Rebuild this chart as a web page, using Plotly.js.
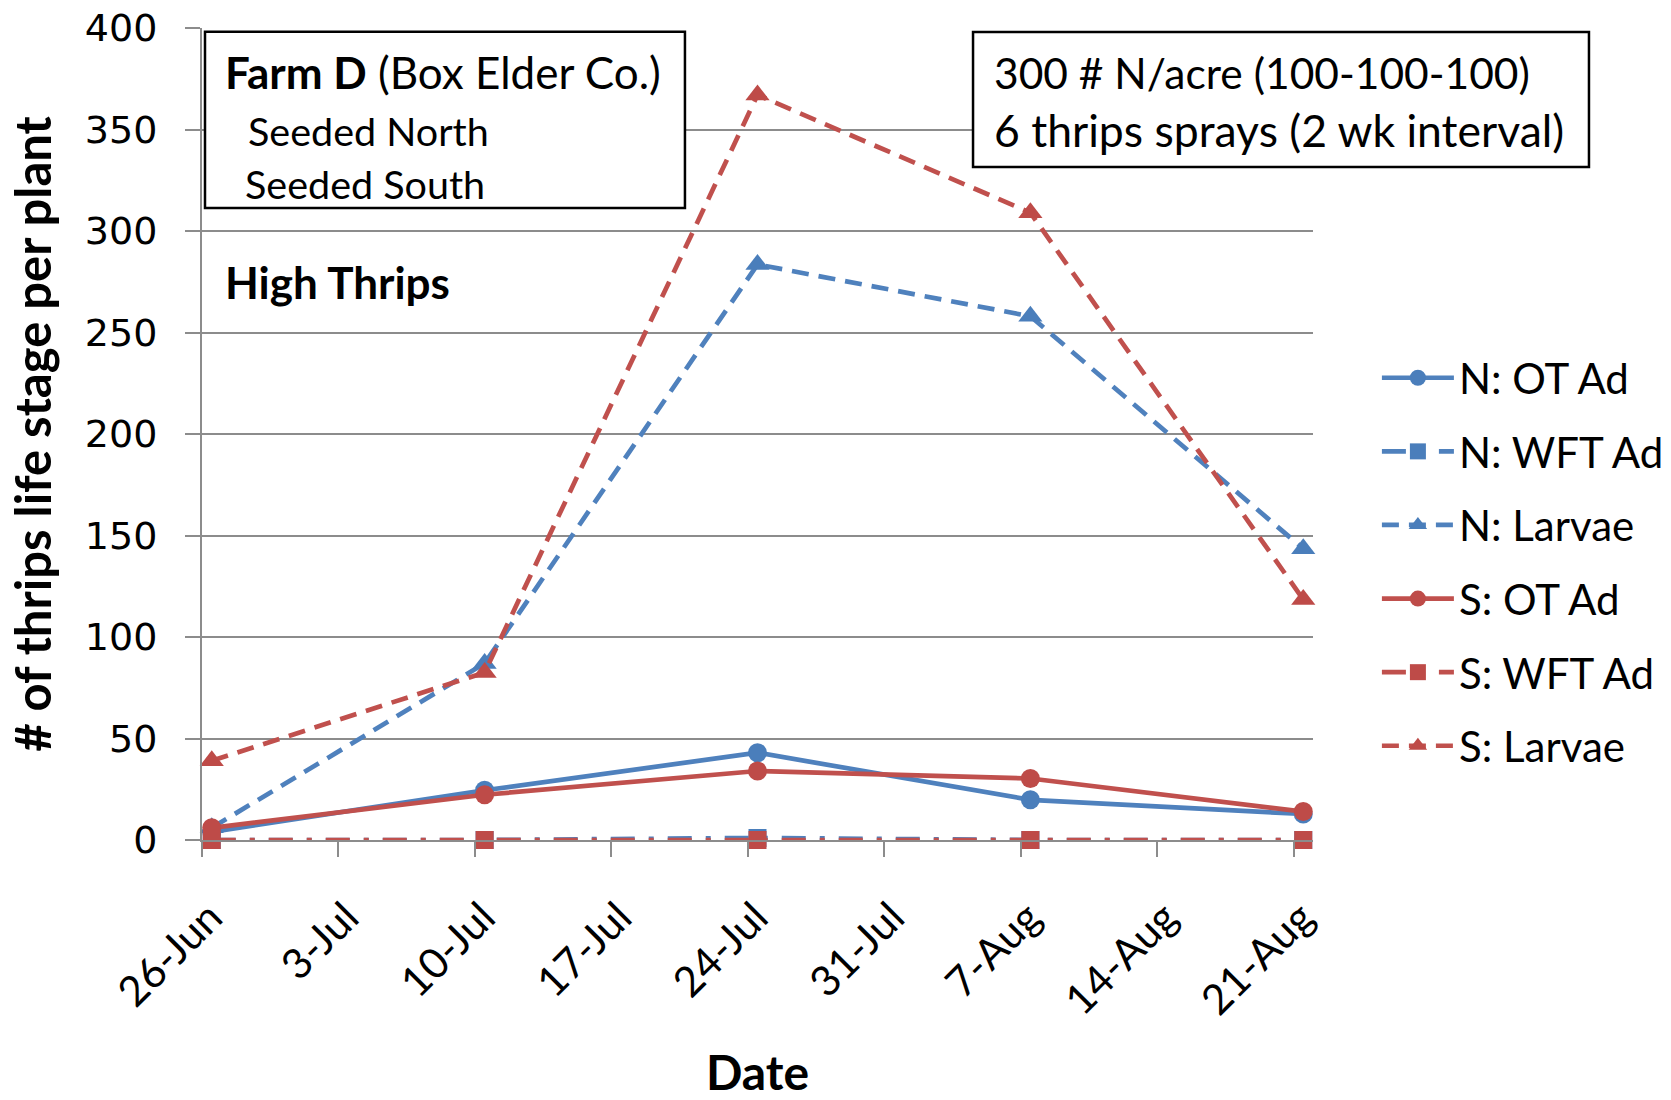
<!DOCTYPE html>
<html>
<head>
<meta charset="utf-8">
<script src="https://cdn.plot.ly/plotly-3.0.1.min.js"></script>
<style>
html,body{margin:0;padding:0;background:#fff;}
#chart{width:1671px;height:1100px;}
</style>
</head>
<body>
<div id="chart"></div>
<script>
// ---- data ----
const dates = ['2013-06-26', '2013-07-10', '2013-07-24', '2013-08-07', '2013-08-21'];
const seriesNames = ['N: OT Ad', 'N: WFT Ad', 'N: Larvae', 'S: OT Ad', 'S: WFT Ad', 'S: Larvae'];
const nOTAd   = [4, 24.5, 43, 19.8, 12.8];
const nWFTAd  = [0, 0, 1, 0, 0];
const nLarvae = [6, 87, 283.5, 258, 143.5];
const sOTAd   = [6, 22.3, 34, 30.3, 14];
const sWFTAd  = [0, 0, 0, 0, 0];
const sLarvae = [39, 82.5, 367, 309, 118.5];
const xTickStart = '2013-06-26';
const xRange = ['2013-06-26', '2013-08-22'];
const yTicks = [0, 50, 100, 150, 200, 250, 300, 350, 400];

// ---- style ----
const BLUE = '#4F81BD', BLUE_M = '#4A7EBB';
const RED = '#C0504D', RED_M = '#BE4B48';
const DAY = 86400000;
const dashLarvae = '17px,10px';
const dashWFT = '24px,14px,5px,14px';
const symbolSize = {'circle': 19, 'square': 18, 'triangle-up': 21};

function tr(name, y, color, mcolor, symbol, dash) {
  return {
    x: dates, y: y, name: name, type: 'scatter', mode: 'lines+markers',
    xperiod: DAY, xperiodalignment: 'middle',
    legendgroup: name,
    line: {color: color, width: 4.7, dash: dash},
    marker: {color: mcolor, symbol: symbol, size: symbolSize[symbol], line: {width: 0}},
    cliponaxis: false
  };
}

const data = [
  tr(seriesNames[0], nOTAd, BLUE, BLUE_M, 'circle', 'solid'),
  tr(seriesNames[1], nWFTAd, BLUE, BLUE_M, 'square', dashWFT),
  tr(seriesNames[2], nLarvae, BLUE, BLUE_M, 'triangle-up', dashLarvae),
  tr(seriesNames[3], sOTAd, RED, RED_M, 'circle', 'solid'),
  tr(seriesNames[4], sWFTAd, RED, RED_M, 'square', dashWFT),
  tr(seriesNames[5], sLarvae, RED, RED_M, 'triangle-up', dashLarvae)
];

const FONT = 'Lato, "Open Sans", sans-serif';
const GRID = '#8C8C8C';

const layout = {
  width: 1671, height: 1100,
  margin: {l: 202, r: 358, t: 28, b: 260},
  paper_bgcolor: '#fff', plot_bgcolor: '#fff',
  font: {family: FONT, color: '#000', size: 40},
  showlegend: true,
  legend: {
    xref: 'container', yref: 'container',
    x: 0.824, xanchor: 'left', y: 0.6873, yanchor: 'top',
    font: {family: FONT, size: 42, color: '#000'},
    itemwidth: 72, tracegroupgap: 16, traceorder: 'grouped',
    bgcolor: 'rgba(0,0,0,0)', borderwidth: 0
  },
  xaxis: {
    type: 'date', range: xRange,
    tick0: xTickStart, dtick: 7 * DAY, tickformat: '%-d-%b',
    tickangle: -45, ticks: 'outside', ticklen: 15, tickwidth: 2, tickcolor: GRID,
    showline: true, linecolor: GRID, linewidth: 2,
    showgrid: false, zeroline: false,
    tickfont: {family: FONT, size: 42, color: '#000'},
    ticklabelshift: 8, ticklabelstandoff: 19,
    title: {text: '<b>Date</b>', font: {family: FONT, size: 48, color: '#000'}, standoff: 63},
    automargin: false
  },
  yaxis: {
    range: [0, 400], tickvals: yTicks,
    ticks: 'outside', ticklen: 15, tickwidth: 2, tickcolor: GRID,
    showline: true, linecolor: GRID, linewidth: 2,
    showgrid: true, gridcolor: GRID, gridwidth: 2,
    zeroline: false,
    tickfont: {family: '"DejaVu Sans", sans-serif', size: 38, color: '#000'},
    ticklabelstandoff: 20,
    title: {text: '<b># of thrips life stage per plant</b>', font: {family: FONT, size: 49, color: '#000'}, standoff: 18},
    automargin: false
  },
  shapes: [
    {type: 'rect', xref: 'paper', yref: 'paper', x0: 0.0027, x1: 0.4347, y0: 0.7783, y1: 0.9954,
     line: {color: '#000', width: 2.5}, fillcolor: '#fff', layer: 'above'},
    {type: 'rect', xref: 'paper', yref: 'paper', x0: 0.694, x1: 1.2484, y0: 0.8288, y1: 0.9951,
     line: {color: '#000', width: 2.5}, fillcolor: '#fff', layer: 'above'}
  ],
  annotations: [
    {xref: 'paper', yref: 'paper', x: 0.0186, y: 0.9452, xanchor: 'left', yanchor: 'middle', showarrow: false,
     text: '<b>Farm D</b> (Box Elder Co.)', font: {family: FONT, size: 44, color: '#000'}},
    {xref: 'paper', yref: 'paper', x: 0.0395, y: 0.8732, xanchor: 'left', yanchor: 'middle', showarrow: false,
     text: 'Seeded North', font: {family: FONT, size: 39.5, color: '#000'}},
    {xref: 'paper', yref: 'paper', x: 0.0368, y: 0.8079, xanchor: 'left', yanchor: 'middle', showarrow: false,
     text: 'Seeded South', font: {family: FONT, size: 39.5, color: '#000'}},
    {xref: 'paper', yref: 'paper', x: 0.0186, y: 0.6872, xanchor: 'left', yanchor: 'middle', showarrow: false,
     text: '<b>High Thrips</b>', font: {family: FONT, size: 44, color: '#000'}},
    {xref: 'paper', yref: 'paper', x: 0.711, y: 0.9452, xanchor: 'left', yanchor: 'middle', showarrow: false,
     text: '300 # N/acre (100-100-100)', font: {family: FONT, size: 42.5, color: '#000'}},
    {xref: 'paper', yref: 'paper', x: 0.711, y: 0.8744, xanchor: 'left', yanchor: 'middle', showarrow: false,
     text: '6 thrips sprays (2 wk interval)', font: {family: FONT, size: 44.5, color: '#000'}}
  ]
};

Plotly.newPlot('chart', data, layout, {staticPlot: true, displayModeBar: false});
</script>
</body>
</html>
